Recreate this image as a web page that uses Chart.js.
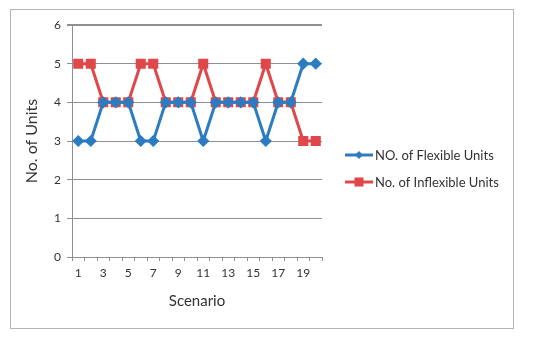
<!DOCTYPE html>
<html>
<head>
<meta charset="utf-8">
<script src="https://cdn.jsdelivr.net/npm/chart.js@4/dist/chart.umd.min.js"></script>
<style>
  body { margin: 0; background: #fff; }
  #marco { position: absolute; left: 10px; top: 9px; width: 502px; height: 318px; border: 1px solid #b4b4b4; }
  #grafico { position: absolute; left: 0; top: 0; }
</style>
</head>
<body>
<div id="marco"><canvas id="grafico" width="502" height="318"></canvas></div>
<script>
// datos
const escenarios = ["1","2","3","4","5","6","7","8","9","10","11","12","13","14","15","16","17","18","19","20"];
const flexibles = [3,3,4,4,4,3,3,4,4,4,3,4,4,4,4,3,4,4,5,5];
const inflexibles = [5,5,4,4,4,5,5,4,4,4,5,4,4,4,4,5,4,4,3,3];
const nombreFlex = "NO. of Flexible Units";
const nombreInflex = "No. of Inflexible Units";
const maximoY = 6;

const azul = "#2b7cc0";
const rojo = "#e0474a";
const gris = "#8f8f8f";
const fuente = "Lato, 'Open Sans', sans-serif";

// linea de arriba (valor maximo)
const lineaArriba = {
  id: "lineaArriba",
  afterDraw(chart) {
    const c = chart.ctx;
    const y = chart.scales.y.getPixelForValue(maximoY);
    c.save();
    c.fillStyle = gris;
    c.fillRect(chart.chartArea.left - 5, Math.round(y) - 1, chart.chartArea.right - chart.chartArea.left + 5, 1.5);
    c.restore();
  }
};

// leyenda a mano: linea con marcador
const leyenda = {
  id: "leyenda",
  afterDraw(chart) {
    const ctx = chart.ctx;
    const items = chart.data.datasets;
    ctx.save();
    items.forEach((ds, i) => {
      const y = 145 + i * 27;
      const x0 = 334;
      ctx.strokeStyle = ds.borderColor;
      ctx.lineWidth = 3;
      ctx.beginPath();
      ctx.moveTo(x0, y);
      ctx.lineTo(x0 + 28, y);
      ctx.stroke();
      ctx.fillStyle = ds.borderColor;
      if (ds.pointStyle == "rect") {
        ctx.fillRect(x0 + 14 - 4.5, y - 4.5, 9, 9);
      } else {
        ctx.beginPath();
        ctx.moveTo(x0 + 14, y - 4);
        ctx.lineTo(x0 + 18, y);
        ctx.lineTo(x0 + 14, y + 4);
        ctx.lineTo(x0 + 10, y);
        ctx.closePath();
        ctx.fill();
      }
      ctx.fillStyle = "#333";
      ctx.font = "13px " + fuente;
      ctx.textBaseline = "middle";
      ctx.fillText(ds.label, x0 + 30, y + 1);
    });
    ctx.restore();
  }
};

const ctx = document.getElementById("grafico").getContext("2d");
const miGrafico = new Chart(ctx, {
  type: "line",
  data: {
    labels: escenarios,
    datasets: [
      {
        label: nombreFlex,
        data: flexibles,
        borderColor: azul,
        backgroundColor: azul,
        borderWidth: 3,
        pointStyle: "rectRot",
        pointRadius: 4,
        pointHoverRadius: 4,
        tension: 0
      },
      {
        label: nombreInflex,
        data: inflexibles,
        borderColor: rojo,
        backgroundColor: rojo,
        borderWidth: 3,
        pointStyle: "rect",
        pointRadius: 5,
        pointHoverRadius: 5,
        tension: 0
      }
    ]
  },
  options: {
    responsive: false,
    animation: false,
    layout: { padding: { left: 0, right: 191, top: 15, bottom: 18 } },
    plugins: {
      legend: { display: false },
      tooltip: { enabled: false }
    },
    scales: {
      x: {
        offset: true,
        grid: { offset: true, drawOnChartArea: false, drawTicks: true, tickLength: 4, color: gris },
        border: { display: true, color: gris },
        ticks: {
          autoSkip: false,
          maxRotation: 0,
          color: "#333",
          padding: 5,
          font: { family: fuente, size: 12 },
          callback: function (v, i) { return i % 2 == 0 ? this.getLabelForValue(v) : ""; }
        },
        title: { display: true, text: "Scenario", color: "#333", font: { family: fuente, size: 15 }, padding: { top: 2, bottom: 0 } },
        afterFit: (s) => { s.height = 53; }
      },
      y: {
        min: 0,
        max: maximoY,
        grid: { color: gris, tickLength: 5 },
        border: { display: true, color: gris },
        ticks: { stepSize: 1, color: "#333", padding: 6, font: { family: fuente, size: 12 } },
        title: { display: true, text: "No. of Units", color: "#333", font: { family: fuente, size: 16 }, padding: { top: 11, bottom: 0 } },
        afterFit: (s) => { s.width = 61; }
      }
    }
  },
  plugins: [lineaArriba, leyenda]
});
</script>
</body>
</html>
